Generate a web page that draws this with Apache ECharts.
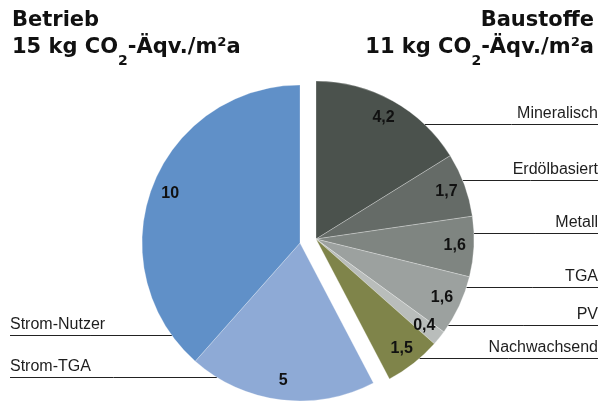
<!DOCTYPE html>
<html>
<head>
<meta charset="utf-8">
<script src="https://cdn.jsdelivr.net/npm/echarts@6/dist/echarts.min.js"></script>
<style>
  html, body { margin: 0; padding: 0; background: #fff; }
  #chart { width: 602px; height: 402px; }
</style>
</head>
<body>
<div id="chart"></div>
<script>
// Embodied emissions by building material (kg CO2-eq per m² and year)
const baustoffeNames = ['Mineralisch', 'Erdölbasiert', 'Metall', 'TGA', 'PV', 'Nachwachsend'];
const baustoffeValues = [4.2, 1.7, 1.6, 1.6, 0.4, 1.5];

// Operational emissions (kg CO2-eq per m² and year)
const betriebNames = ['Strom-TGA', 'Strom-Nutzer'];
const betriebValues = [5, 10];

// Group headings
const groupTitles = {
  betrieb: ['Betrieb', '15 kg CO', '2', '-Äqv./m²a'],
  baustoffe: ['Baustoffe', '11 kg CO', '2', '-Äqv./m²a']
};

// ---- styling / layout ----
const baustoffeColors = ['#4b524d', '#656b67', '#7f8581', '#9ca19f', '#b9bdbb', '#7f844a'];
const betriebColors = ['#8eaad6', '#6090c8'];

// vertical position of each name label's underline
const labelRowY = {
  'Mineralisch': 124.5,
  'Erdölbasiert': 180.5,
  'Metall': 233.5,
  'TGA': 287.5,
  'PV': 325.5,
  'Nachwachsend': 358.5,
  'Strom-Nutzer': 335.5,
  'Strom-TGA': 377.5
};

const R = 158;
const pieCenter = [300, 243];
const explode = 16.5;

const sum = arr => arr.reduce((a, b) => a + b, 0);
const totalBaustoffe = sum(baustoffeValues);
const totalBetrieb = sum(betriebValues);
const grandTotal = totalBaustoffe + totalBetrieb;

// the material group is pulled out along the bisector of its arc
const midRad = (totalBaustoffe / grandTotal) * Math.PI; // half the group's sweep, clockwise from 12 o'clock
const baustoffeCenter = [
  pieCenter[0] + explode * Math.sin(midRad),
  pieCenter[1] - explode * Math.cos(midRad)
];

const fmt = v => String(v).replace('.', ',');
const FONT = 'Liberation Sans, Arial, sans-serif';
const TITLE_FONT = 'DejaVu Sans, sans-serif';

function nameLayout(names, center, side) {
  return function (p) {
    const y = labelRowY[names[p.dataIndex]];
    if (y == null) return {};
    const dy = y - center[1];
    const dx = Math.sqrt(Math.max(0, R * R - dy * dy));
    const xStart = side === 'right' ? center[0] + dx : center[0] - dx;
    const xEnd = side === 'right' ? 598 : 10;
    return {
      x: xEnd,
      y: y - 2,
      align: side,
      verticalAlign: 'bottom',
      labelLinePoints: [[xStart, y], [(xStart + xEnd) / 2, y], [xEnd, y]]
    };
  };
}

const hidden = {
  itemStyle: { color: 'transparent', borderWidth: 0 },
  label: { show: false },
  labelLine: { show: false }
};

// data in clockwise order starting at 12 o'clock
const baustoffeData = baustoffeNames.map((n, i) => ({
  name: n, value: baustoffeValues[i], itemStyle: { color: baustoffeColors[i] }
})).concat([Object.assign({ name: '', value: totalBetrieb }, hidden)]);

const betriebSeriesNames = [''].concat(betriebNames);
const betriebData = [Object.assign({ name: '', value: totalBaustoffe }, hidden)].concat(
  betriebNames.map((n, i) => ({
    name: n, value: betriebValues[i], itemStyle: { color: betriebColors[i] }
  }))
);
const baustoffeSeriesNames = baustoffeNames.concat(['']);

function ringData(data) {
  return data.map(d => d.name === '' ? d : {
    name: d.name, value: d.value, itemStyle: { color: 'transparent', borderWidth: 0 }
  });
}

const sliceStyle = { borderColor: 'rgba(255,255,255,0.45)', borderWidth: 0.6 };
const nameLabel = {
  show: true, position: 'outside', formatter: '{b}',
  fontFamily: FONT, fontSize: 16, color: '#1e1e1e', lineHeight: 18
};
const nameLine = { show: true, length: 10, length2: 10, lineStyle: { color: '#222', width: 1 } };
const valueLabel = {
  show: true, position: 'inside', formatter: p => fmt(p.value),
  fontFamily: FONT, fontSize: 16, fontWeight: 'bold', color: '#111'
};

function titleRich(align) {
  return {
    b: { fontFamily: TITLE_FONT, fontSize: 21, fontWeight: 'bold', color: '#111', lineHeight: 27, verticalAlign: 'top', align: align },
    sub: { fontFamily: TITLE_FONT, fontSize: 14, fontWeight: 'bold', color: '#111', lineHeight: 14, padding: [17, 0, 0, 0], verticalAlign: 'top', align: align }
  };
}
const titleText = t => `{b|${t[0]}}\n{b|${t[1]}}{sub|${t[2]}}{b|${t[3]}}`;

const chart = echarts.init(document.getElementById('chart'), null, { renderer: 'canvas' });
chart.setOption({
  animation: false,
  backgroundColor: '#fff',
  title: [
    { text: titleText(groupTitles.betrieb), left: 12, top: 10, padding: 0, textAlign: 'left', textStyle: { align: 'left', rich: titleRich('left') } },
    { text: titleText(groupTitles.baustoffe), right: 8, top: 10, padding: 0, textStyle: { align: 'right', rich: titleRich('right') } }
  ],
  series: [
    {
      type: 'pie', center: baustoffeCenter, radius: R, startAngle: 90, clockwise: true,
      silent: true, avoidLabelOverlap: false, itemStyle: sliceStyle,
      label: nameLabel, labelLine: nameLine,
      labelLayout: nameLayout(baustoffeSeriesNames, baustoffeCenter, 'right'),
      data: baustoffeData
    },
    {
      type: 'pie', center: pieCenter, radius: R, startAngle: 90, clockwise: true,
      silent: true, avoidLabelOverlap: false, itemStyle: sliceStyle,
      label: nameLabel, labelLine: nameLine,
      labelLayout: nameLayout(betriebSeriesNames, pieCenter, 'left'),
      data: betriebData
    },
    {
      type: 'pie', center: baustoffeCenter, radius: [R * 0.72, R], startAngle: 90, clockwise: true,
      silent: true, avoidLabelOverlap: false, label: valueLabel, labelLine: { show: false },
      data: ringData(baustoffeData)
    },
    {
      type: 'pie', center: pieCenter, radius: [R * 0.72, R], startAngle: 90, clockwise: true,
      silent: true, avoidLabelOverlap: false, label: valueLabel, labelLine: { show: false },
      data: ringData(betriebData)
    }
  ]
});
</script>
</body>
</html>
